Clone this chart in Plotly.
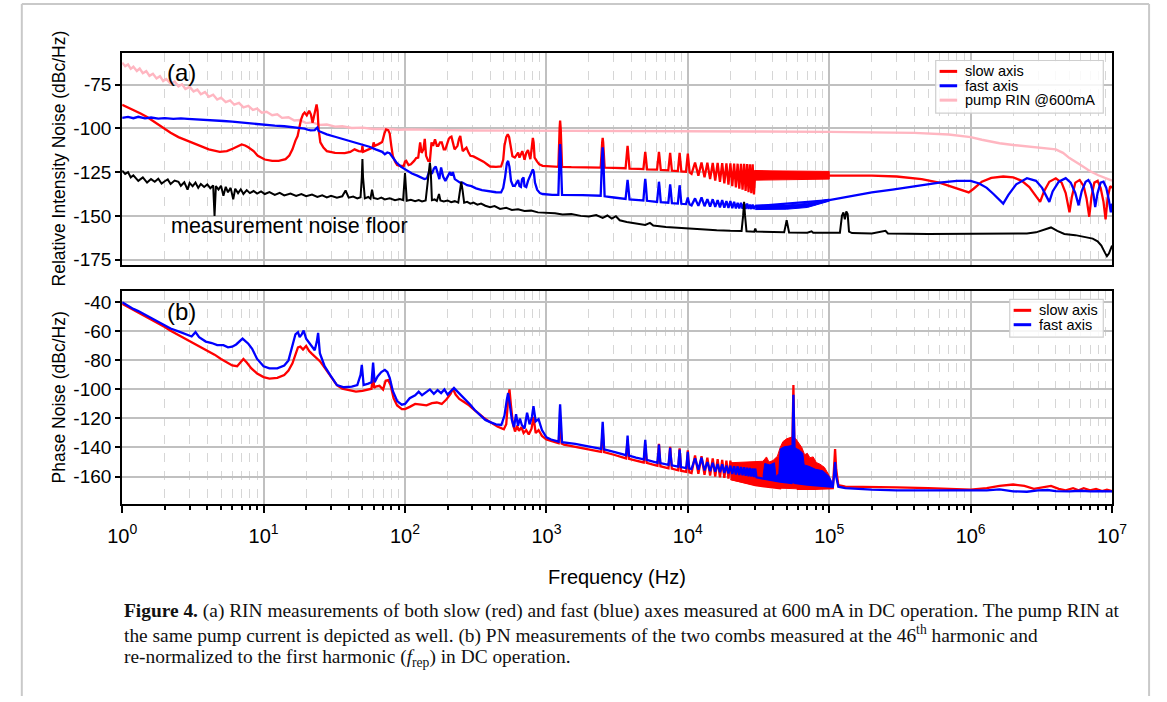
import plotly.graph_objects as go

# ------------------------------------------------------------------ data
F_TICKS = [1, 10, 100, 1000, 10000, 100000, 1000000, 10000000]
F_TICK_TEXT = ["10<sup>0</sup>", "10<sup>1</sup>", "10<sup>2</sup>", "10<sup>3</sup>",
               "10<sup>4</sup>", "10<sup>5</sup>", "10<sup>6</sup>", "10<sup>7</sup>"]
RIN_TICKS = [-175, -150, -125, -100, -75]
RIN_TICK_TEXT = ["-175", "-150", "-125", "-100", "-75"]
PN_TICKS = [-160, -140, -120, -100, -80, -60, -40]
PN_TICK_TEXT = ["-160", "-140", "-120", "-100", "-80", "-60", "-40"]

# (a) pump RIN @600mA  (frequency Hz, dBc/Hz)
RIN_PUMP = [
    (1, -62.5), (1.05, -64.5), (1.1, -63.5), (1.15, -66), (1.2, -64.8), (1.27, -67.2), (1.33, -65.8),
    (1.4, -68.5), (1.48, -67.3), (1.56, -70), (1.65, -68.8), (1.75, -71.5), (1.85, -70.2), (1.95, -73),
    (2.05, -71.8), (2.2, -74.5), (2.35, -73.3), (2.5, -76), (2.65, -74.8), (2.8, -77.5), (3.0, -76.3),
    (3.2, -79), (3.4, -77.8), (3.6, -80.5), (3.85, -79.3), (4.1, -82), (4.4, -80.8), (4.7, -83.5),
    (5.0, -82.5), (5.4, -85), (5.8, -84), (6.2, -86.5), (6.7, -85.5), (7.2, -88), (7.8, -87.2),
    (8.4, -89.5), (9.0, -88.7), (9.7, -91), (10.5, -90.5), (11.5, -92.5), (12.5, -92), (13.5, -94),
    (15, -93.7), (16.5, -95.5), (18, -95.2), (20, -97), (22, -96.6), (25, -98), (28, -97.8), (32, -99),
    (36, -98.8), (42, -99.8), (50, -99.6), (60, -100.4), (75, -100.2), (90, -100.8), (110, -100.6),
    (150, -101), (200, -101), (300, -101.2), (500, -101.3), (1000, -101.5), (2000, -101.6),
    (5000, -101.7), (10000, -101.8), (30000, -101.8), (100000, -102), (200000, -102.2),
    (400000, -102.6), (700000, -103.5), (1000000, -105), (1200000, -106.5), (1600000, -108.5),
    (2000000, -109.5), (3000000, -110.8), (4000000, -112), (4500000, -114), (5000000, -117),
    (6000000, -121), (7000000, -124.5), (8000000, -126.8), (9000000, -128.5), (10000000, -129.8),
]

# (a) slow axis RIN
RIN_SLOW = [
    (1, -86.5), (1.1, -88), (1.2, -89.5), (1.35, -91.5), (1.5, -93.5), (1.66, -95.8), (1.85, -98.5),
    (2.0, -100.5), (2.2, -102.5), (2.5, -105), (2.9, -107), (3.4, -109.5), (4.1, -112), (4.9, -113.4),
    (5.5, -113), (6.1, -111.5), (6.6, -110), (7.0, -109.2), (7.4, -109.8), (7.8, -110.8), (8.5, -113),
    (9.1, -115.7), (10.2, -117.8), (11.5, -118.6), (12.8, -118.6), (14.3, -117.6), (15.2, -115.5),
    (16, -112), (16.8, -107), (17.4, -104.4), (18.4, -95), (19, -92), (19.5, -91), (20.2, -92.6),
    (21, -90), (21.6, -92), (22.2, -96.8), (22.7, -93), (23.3, -88), (23.7, -86.4), (24.1, -90),
    (24.5, -100.6), (25.2, -108), (26.5, -111), (28, -113), (32, -114), (37.5, -114.2), (41, -113.5),
    (44, -112), (47, -113), (49.5, -113.2), (50, -110), (50.6, -113.4), (55, -112), (59, -111),
    (60, -108), (61, -110), (65, -109), (69, -107.8), (71.5, -103), (73.5, -100.6), (76, -101),
    (78, -103), (80, -110), (82, -115.7), (85, -119), (88, -121), (93, -121.5), (98, -121.4),
    (100, -119), (102, -118.6), (106, -121), (110, -120.5), (116, -118.6), (120, -117), (124, -116.7),
    (128, -108), (131, -114), (135, -112), (138, -106), (141, -115.7), (146, -118.6), (150, -118.6),
    (154, -108), (158, -110), (163, -106.2), (168, -110), (172, -110), (177, -108), (182, -108),
    (188, -112), (193, -112), (199, -108), (204, -106), (209, -105), (213, -104.7), (218, -108),
    (224, -112), (230, -111), (235, -110), (241, -106), (246, -104.4), (251, -109), (256, -113),
    (264, -112), (272, -111), (282, -114), (290, -115.7), (305, -116), (318, -116.7), (340, -118),
    (359, -119), (380, -120.5), (400, -121.8), (440, -122), (478, -121.8), (495, -118), (505, -110),
    (520, -105), (533, -103.4), (545, -105), (560, -111), (575, -116), (598, -116.7), (615, -115.5),
    (631, -113.8), (645, -116.7), (660, -115), (675, -113), (689, -115.5), (700, -118), (720, -114),
    (741, -112.4), (755, -115), (770, -117.6), (785, -112), (802, -105.5), (812, -108), (825, -116.7),
    (860, -119), (890, -120.5), (940, -121.4), (1000, -121.6), (1085, -121.8), (1180, -121.8),
    (1215, -122), (1240, -100), (1250, -95.5), (1262, -100), (1290, -122), (1500, -122.2),
    (2000, -122.3), (2420, -122.4), (2480, -108), (2500, -105.5), (2520, -108), (2580, -122.5),
    (3000, -122.6), (3630, -122.8), (3720, -113), (3750, -110), (3780, -113), (3870, -123),
    (4500, -123.2), (4850, -123.3), (4960, -116), (5000, -113.5), (5040, -116), (5150, -123.4),
    (6060, -123.6), (6200, -116), (6250, -113.5), (6300, -116), (6440, -123.8), (7280, -124),
    (7440, -117), (7500, -114), (7560, -117), (7720, -124.2), (8500, -124.4), (8680, -117),
    (8750, -114), (8820, -117), (9000, -124.6), (9700, -124.8), (9930, -117), (10000, -114.5),
    (10070, -117), (10300, -125.2),
    (10625, -126), (11250, -119.5), (11875, -127), (12500, -119.5), (13125, -128), (13750, -119.6),
    (14375, -129), (15000, -119.7), (15625, -129.8), (16250, -119.8), (16875, -130.6), (17500, -119.9),
    (18125, -131.4), (18750, -120), (19375, -132.2), (20000, -120), (20625, -133), (21250, -120.1),
    (21875, -133.7), (22500, -120.2), (23125, -134.4), (23750, -120.3), (24375, -135.1), (25000, -120.3),
    (25625, -135.8), (26250, -120.4), (26875, -136.5), (27500, -120.5), (28125, -137.1), (28750, -120.5),
    (29375, -137.8), (30000, -124.5), (100000, -127),
    (200000, -127), (300000, -127.5), (450000, -129), (600000, -131), (750000, -133.5), (880000, -135.5),
    (970000, -136.6), (1050000, -134.5), (1200000, -130.5), (1400000, -128.3), (1700000, -127.5),
    (2000000, -128), (2300000, -130), (2600000, -133.5), (2900000, -138.5), (3100000, -142),
    (3300000, -136), (3600000, -130.5), (4000000, -128.5), (4400000, -131), (4700000, -137),
    (5000000, -148), (5200000, -139), (5500000, -131), (5900000, -129.5), (6300000, -133),
    (6600000, -140), (6900000, -150.5), (7150000, -139), (7500000, -131), (7900000, -130),
    (8300000, -134), (8700000, -142), (9000000, -152), (9300000, -140), (9700000, -133),
    (10000000, -134),
]
# dense harmonic band of the slow axis between 30 kHz and 100 kHz: (f, upper, lower)
RIN_SLOW_BAND = [(30000, -124.2, -129.6), (60000, -124.4, -129.3), (100000, -124.6, -129.0)]

# (a) fast axis RIN
RIN_FAST = [
    (1, -94), (1.1, -93.5), (1.2, -94.2), (1.3, -93.4), (1.45, -94.3), (1.6, -93.8), (1.8, -94.5),
    (2.0, -94.2), (2.3, -94.6), (2.6, -94.3), (2.9, -94.6), (3.3, -94.8), (3.8, -95.2), (4.4, -95.5),
    (5.2, -95.8), (6, -96.2), (7, -96.8), (8, -97.2), (9.1, -97.7), (10.5, -98.2), (12, -98.5),
    (14, -98.8), (16, -99.2), (18, -99.8), (19.5, -100.2), (20.5, -100.8), (21.5, -101.2), (23, -101),
    (24, -99.5), (24.5, -101.5), (26, -102.5), (28, -103.4), (32, -104.8), (37, -106.2), (43, -107.8),
    (50, -109), (56, -110.5), (62, -112), (69, -113.4), (72, -114.8), (75, -113.8), (78, -114.2),
    (82, -116.5), (87, -119.5), (94, -122), (103, -124.2), (112, -125.8), (122, -127), (130, -128.2),
    (137, -129), (143, -128.5), (149, -124.2), (155, -126), (160, -123), (165, -121.8), (170, -126),
    (175, -129), (180, -122.3), (186, -127.5), (193, -130), (200, -127.5), (208, -125), (213, -127),
    (218, -125), (225, -129), (233, -130), (245, -131), (255, -131), (275, -132.5), (295, -133),
    (318, -134.3), (350, -135.3), (400, -136.2), (440, -136.5), (478, -136.6), (495, -134),
    (510, -128), (525, -120), (536, -118.6), (548, -122), (562, -130), (580, -132.8), (598, -132.8),
    (615, -131), (631, -129.5), (645, -133), (660, -133.5), (673, -129), (689, -128), (700, -133),
    (720, -133.5), (741, -130), (770, -127), (802, -123.5), (815, -125), (830, -131), (860, -135),
    (900, -137), (940, -137.5), (1000, -137.8), (1100, -138), (1200, -138),
    (1215, -138), (1238, -115), (1250, -109), (1262, -115), (1290, -138), (1800, -138.2),
    (2420, -138.5), (2480, -115), (2500, -110.8), (2520, -115), (2580, -138.8), (3000, -139.5),
    (3630, -140.3), (3720, -132), (3750, -129.5), (3780, -132), (3870, -140.6), (4500, -141),
    (4850, -141.2), (4960, -131.5), (5000, -128.8), (5040, -131.5), (5150, -141.4), (6060, -142),
    (6200, -133), (6250, -130.5), (6300, -133), (6440, -142.2), (7280, -142.5), (7440, -134.5),
    (7500, -132), (7560, -134.5), (7720, -142.7), (8500, -143), (8680, -135), (8750, -132.5),
    (8820, -135), (9000, -143.1), (9700, -143.3), (9930, -141), (10000, -139.5), (10070, -141),
    (10300, -143.5),
    (10625, -144), (11250, -140), (11875, -144.3), (12500, -139.5), (13125, -144.5), (13750, -140.5),
    (14375, -144.7), (15000, -140.5), (15625, -144.9), (16250, -141), (16875, -145.1), (17500, -141),
    (18125, -145.3), (18750, -141.5), (19375, -145.5), (20000, -141.5), (20625, -145.6), (21250, -142),
    (21875, -145.7), (22500, -142.5), (23125, -145.8), (23750, -142.5), (24375, -145.9), (25000, -143),
    (25625, -146), (26250, -143), (26875, -146), (27500, -143.5), (28125, -146.1), (28750, -143.5),
    (29375, -146.1), (30000, -144.5), (100000, -141),
    (150000, -138.5), (200000, -136.6), (280000, -135), (350000, -133.7), (450000, -132.3),
    (600000, -131), (800000, -130), (1000000, -130), (1150000, -131.5), (1300000, -134),
    (1450000, -137.5), (1600000, -141), (1700000, -143), (1850000, -138), (2100000, -132),
    (2500000, -128.5), (2900000, -130), (3200000, -134), (3450000, -139), (3600000, -142),
    (3800000, -136), (4200000, -130.5), (4700000, -128.5), (5100000, -131), (5500000, -137),
    (5800000, -144), (6100000, -136), (6500000, -130.5), (6800000, -129.5), (7100000, -132),
    (7400000, -138), (7600000, -145), (7900000, -137), (8300000, -131), (8700000, -130.5),
    (9100000, -134), (9500000, -141), (9800000, -148), (10000000, -143),
]
RIN_FAST_BAND = [(30000, -143.8, -146.4), (50000, -143.8, -146.2), (70000, -142.8, -145.2), (100000, -140.4, -141.6)]

# (a) measurement noise floor
RIN_FLOOR = [
    (1, -124.2), (1.05, -126), (1.1, -125), (1.15, -128), (1.2, -126.8), (1.3, -130), (1.4, -128),
    (1.5, -131), (1.6, -129), (1.7, -130.5), (1.8, -128.8), (1.9, -131.5), (2.0, -130.2), (2.1, -129.2),
    (2.2, -131.8), (2.35, -129.8), (2.5, -130.5), (2.6, -132.8), (2.75, -130.8), (2.9, -135), (3.0, -131.2),
    (3.15, -133), (3.3, -131), (3.45, -134), (3.6, -131.8), (3.8, -133.5), (4.0, -132), (4.2, -134.2),
    (4.4, -132.6), (4.5, -150), (4.6, -133), (4.8, -135), (5.0, -132.8), (5.2, -138.5), (5.4, -133.4),
    (5.6, -136.5), (5.85, -134), (6.1, -140.5), (6.3, -134.5), (6.6, -137), (6.9, -134.8), (7.2, -137.5),
    (7.6, -135.3), (8.0, -137), (8.5, -135.8), (9.0, -137.3), (9.6, -136), (10.2, -137.5), (11, -136.4),
    (12, -138), (13, -136.8), (14, -138.3), (15.5, -137.2), (17, -138.6), (18.5, -137.5), (20, -138.8),
    (22, -137.8), (24, -139.2), (26, -138.2), (28, -139.4), (30, -138.5), (33, -139.6), (36, -138.8),
    (38, -135.5), (40, -139.6), (43, -139), (46, -140), (48.5, -139.4), (49.5, -128), (50, -117.6),
    (50.5, -128), (52, -140), (55, -139.2), (57, -140.2), (58.5, -135), (60, -139.8), (64, -140.4),
    (68, -139.6), (72, -140.6), (78, -140), (85, -141), (92, -140.4), (97, -141), (99, -131),
    (100, -125.5), (101, -131), (103, -141.4), (110, -140.8), (118, -141.6), (125, -141), (132, -141.8),
    (140, -141.2), (145, -130), (148, -121), (150, -119.5), (152, -124), (155, -141), (162, -140.6),
    (168, -141.5), (174, -137.5), (178, -141.2), (188, -141.8), (200, -141.2), (212, -142.2),
    (225, -141.6), (238, -142.4), (245, -135), (250, -130.5), (256, -136), (262, -142.5), (275, -142),
    (290, -143), (305, -142.4), (325, -143.6), (345, -143), (370, -144.2), (400, -145), (430, -144.4),
    (470, -146), (520, -145.4), (570, -146.6), (630, -146.2), (700, -147.2), (780, -147), (870, -148),
    (1000, -148.2), (1150, -148.5), (1300, -149.2), (1500, -149), (1750, -150), (2000, -150.3),
    (2250, -149.5), (2500, -151.2), (2700, -149.8), (2900, -151.5), (3100, -150.2), (3300, -152.5),
    (3700, -153.5), (4200, -154.2), (5000, -155.2), (5400, -154), (5700, -155.5), (7000, -156.3),
    (9000, -157), (12000, -157.8), (16000, -158.2), (20000, -158.5), (24000, -158.6), (24600, -150),
    (25000, -142), (25400, -150), (26000, -158.8), (29500, -159), (30000, -157.2), (30500, -159),
    (40000, -159.3), (48000, -159.4), (49000, -156), (50000, -152.5), (51000, -156), (52000, -159.5),
    (70000, -159.6), (75000, -158.8), (77000, -159.6), (119000, -159.6), (123000, -150), (126000, -148),
    (129000, -152), (132000, -147.5), (135000, -149), (138000, -159), (145000, -159.8), (200000, -160),
    (250000, -158.5), (260000, -160), (500000, -160.3), (1000000, -160.3), (1500000, -160.2),
    (2500000, -160), (2900000, -159.4), (3300000, -158), (3700000, -156.6), (4100000, -158.6),
    (4600000, -160.3), (5500000, -161), (6500000, -162), (7300000, -163), (7900000, -164.5),
    (8400000, -167), (8900000, -171), (9200000, -173), (9500000, -171.5), (10000000, -167),
]

# (b) slow axis phase noise
PN_SLOW = [
    (1, -41), (1.1, -43.2), (1.2, -45), (1.3, -47), (1.45, -49.5), (1.6, -51.5), (1.8, -54.5),
    (2.0, -57), (2.2, -59.5), (2.5, -62.5), (2.8, -65), (3.2, -68), (3.6, -70.5), (4.0, -73),
    (4.5, -76), (5.0, -79), (5.5, -81.5), (6.0, -83.5), (6.5, -84), (6.9, -81), (7.2, -79), (7.6, -81.5),
    (8.2, -85.5), (9.0, -89), (10, -91.5), (11, -92.5), (12.5, -92), (14, -90), (15, -87), (16, -82),
    (16.8, -76), (17.5, -71), (18.2, -70.5), (19, -72.5), (20, -70), (21, -73.5), (22, -75.5),
    (23.5, -78), (25, -80.5), (27, -85), (30, -91), (33, -97), (36, -99.5), (40, -100.5), (45, -101.5),
    (50, -101), (55, -100), (58, -99.5), (59.5, -88), (60.5, -99), (62, -98), (66, -97.5), (70, -100),
    (73, -94), (76, -93.5), (79, -97), (83, -106), (88, -111), (95, -113.5), (100, -113.5), (108, -112),
    (118, -110), (130, -110.5), (142, -111), (155, -109.5), (168, -109), (182, -110), (196, -107),
    (210, -103), (218, -99.5), (228, -103.5), (242, -106.5), (260, -108.5), (280, -110.5), (300, -113),
    (330, -116.5), (360, -119.5), (400, -122.5), (450, -125.5), (500, -127.5), (520, -124), (535, -108),
    (548, -100), (560, -110), (580, -124), (600, -129), (620, -125), (640, -128.5), (665, -126),
    (690, -130), (720, -128), (750, -131), (785, -127), (810, -119), (840, -130), (880, -128),
    (930, -132), (1000, -134.5), (1080, -135.5), (1160, -136.5), (1220, -137), (1250, -121),
    (1280, -137.2), (1330, -138), (1600, -139.5), (2000, -141.5), (2440, -143), (2500, -128),
    (2560, -143.2), (3000, -145), (3660, -147.5), (3750, -135), (3840, -147.8), (4300, -149),
    (4880, -150.3), (5000, -138), (5120, -150.6), (5600, -151.7), (6100, -152.6), (6250, -137.5),
    (6400, -152.9), (7300, -154.3), (7500, -139.5), (7700, -154.6), (8550, -155.7), (8750, -140.5),
    (8950, -156), (9750, -156.8), (10000, -142), (10250, -157.2), (10625, -157.6), (11250, -145.5),
    (11875, -158.2), (12500, -146), (13125, -158.8), (13750, -147), (14375, -159.4), (15000, -147.5),
    (15625, -160), (16250, -148), (16875, -160.5), (17500, -148.5), (18125, -161), (18750, -149),
    (19375, -161.5), (20000, -149), (20625, -162), (30000, -166), (45000, -168), (55000, -133),
    (55800, -97), (56600, -133), (60000, -168.5), (80000, -168.5), (100000, -168.2), (106000, -168),
    (108000, -155), (110000, -141), (112000, -155), (116000, -166), (130000, -167), (160000, -167),
    (200000, -167.2), (300000, -167.5), (500000, -168), (800000, -168.5), (1000000, -169),
    (1300000, -168), (1600000, -166.5), (2000000, -165.5), (2400000, -166.5), (2800000, -168.5),
    (3200000, -167.5), (3700000, -166.5), (4200000, -168.5), (4700000, -169.5), (5300000, -168),
    (5800000, -169.5), (6300000, -168), (7000000, -169.5), (7700000, -168.5), (8500000, -170),
    (9200000, -169), (10000000, -170),
]
# envelope of the dense slow-axis harmonics around the 55 kHz feature
PN_SLOW_ENV_HI = [
    (20000, -150.5), (25000, -150), (30000, -150), (34000, -149.5), (36000, -146.5), (37500, -150),
    (40000, -149), (43000, -146), (45000, -140), (47000, -136), (50000, -134), (53000, -133),
    (55500, -132.5), (58000, -134), (61000, -137), (64000, -140), (67000, -145), (70000, -144),
    (73000, -147), (77000, -146.5), (81000, -150.3), (86000, -151.5), (92600, -153.7), (99500, -159),
    (102000, -163), (106000, -166),
]
PN_SLOW_ENV_LO = [(20000, -162.2), (30000, -166), (45000, -168), (60000, -168.5), (80000, -168.5), (106000, -168)]

# (b) fast axis phase noise
PN_FAST = [
    (1, -40), (1.1, -42.5), (1.2, -44.5), (1.3, -46), (1.45, -48.5), (1.6, -50.5), (1.8, -53.5),
    (2.0, -56), (2.2, -58), (2.5, -60), (2.8, -62), (3.1, -63.5), (3.3, -60.5), (3.5, -64), (3.9, -67),
    (4.3, -68), (4.7, -69.5), (5.2, -69.5), (5.6, -71), (6.0, -70.5), (6.4, -69), (6.8, -67), (7.1, -65),
    (7.4, -66.5), (7.8, -68.5), (8.3, -72), (9.0, -79), (10, -84), (11, -85.5), (12.5, -85.5),
    (14, -83.5), (15, -80), (16, -70), (16.8, -62), (17.5, -60.5), (18, -64), (18.6, -62), (19.2, -59.5),
    (20, -65), (21, -68), (22, -70), (23, -73), (23.8, -67), (24.3, -61), (25, -75), (27, -84),
    (30, -91), (33, -97), (37, -98.5), (42, -98), (46, -97), (48.5, -90), (49.5, -83), (51, -97),
    (55, -96), (58, -95), (59.5, -81.5), (61, -95), (64, -91), (68, -88), (72, -86.5), (75, -88),
    (78, -92), (82, -101), (88, -108), (95, -110.5), (100, -110), (108, -106), (118, -104),
    (125, -101.5), (132, -104), (140, -102), (150, -100), (160, -103), (170, -100.5), (180, -102.5),
    (190, -100), (200, -103.5), (212, -101), (222, -99), (235, -101.5), (250, -104), (270, -107),
    (290, -110.5), (310, -114), (340, -118), (370, -121), (400, -122.5), (440, -124), (480, -124.5),
    (505, -118), (525, -107), (536, -102.5), (550, -110), (570, -121), (590, -126), (610, -117),
    (630, -125), (650, -120), (670, -124.5), (700, -127), (730, -116), (760, -124), (790, -119),
    (810, -111.5), (840, -122), (880, -120.5), (930, -128), (1000, -133), (1080, -134.5),
    (1160, -135.5), (1220, -136), (1238, -118), (1250, -110.3), (1262, -118), (1290, -136.3),
    (1600, -137.5), (2000, -139.5), (2440, -141), (2480, -128), (2500, -122.3), (2520, -128),
    (2560, -141.2), (3000, -143), (3660, -145.3), (3720, -137), (3750, -131.8), (3780, -137),
    (3840, -145.6), (4300, -147), (4880, -148.2), (4960, -139), (5000, -134.8), (5040, -139),
    (5120, -148.5), (5600, -149.5), (6100, -150.5), (6200, -143), (6250, -138), (6300, -143),
    (6400, -150.8), (7300, -152), (7440, -145), (7500, -140.2), (7560, -145), (7700, -152.3),
    (8550, -153.2), (8680, -146), (8750, -141.5), (8820, -146), (8950, -153.5), (9750, -154.2),
    (9930, -148), (10000, -143), (10070, -148), (10250, -154.5),
    (10625, -154.8), (11250, -147.5), (11875, -155.3), (12500, -147), (13125, -155.8), (13750, -150),
    (14375, -156.3), (15000, -150.5), (15625, -156.7), (16250, -151.5), (16875, -157.1), (17500, -151.5),
    (18125, -157.5), (18750, -152.5), (19375, -157.9), (20000, -152.5), (20625, -158.3), (21250, -153),
    (21875, -158.6), (22500, -153), (23125, -158.9), (23750, -153.5), (24375, -159.2), (25000, -153.5),
    (25625, -159.5), (26250, -154), (26875, -159.8), (27500, -154), (28125, -160.1), (28750, -154.5),
    (29375, -160.4), (30000, -154.5), (30600, -160.6), (34000, -161.5), (45000, -163.5),
    (54000, -164.5), (55000, -140), (55800, -103.7), (56600, -140), (57500, -164.5), (70000, -165.5),
    (100000, -166.5), (106000, -167), (108000, -160), (110000, -150), (112000, -160), (116000, -167),
    (130000, -168), (160000, -168.5), (200000, -169), (300000, -169.5), (500000, -169.5),
    (800000, -170), (1000000, -170), (1300000, -169.5), (1600000, -168.8), (2000000, -170.2),
    (2500000, -170.5), (3000000, -169.5), (3500000, -169.3), (4000000, -170), (5000000, -170.3),
    (6000000, -169.8), (7000000, -170.2), (8000000, -170), (10000000, -170.3),
]
PN_FAST_ENV_HI = [
    (34000, -160), (35000, -151), (38000, -152), (41000, -150.5), (42000, -160), (44000, -158),
    (45000, -141), (48000, -139.5), (52000, -139), (55000, -138.5), (58000, -140.5), (62000, -142),
    (65000, -144), (66500, -152), (72000, -153), (80000, -155), (90000, -156), (100000, -160),
    (106000, -165),
]
PN_FAST_ENV_LO = [(34000, -161.5), (45000, -163.5), (70000, -165.5), (106000, -167)]

# ------------------------------------------------------------------ styling
RED, BLUE, PINK, BLACK = "#ff0000", "#0000ff", "#ffb6c1", "#000000"
SANS = "Liberation Sans, Arial, Helvetica, sans-serif"
SERIF = "Liberation Serif, Times New Roman, serif"
W, H = 1167, 702
PLOT_L, PLOT_R = 110, 1126          # pixel edges of the plot boxes
A_TOP, A_BOT = 53, 267
B_TOP, B_BOT = 294, 508


def fx(p):
    return p / W


def fy(p):
    return 1 - p / H


def unzip(pairs):
    return [p[0] for p in pairs], [p[1] for p in pairs]


def band_polygon(hi, lo):
    fh, vh = unzip(hi)
    fl, vl = unzip(lo)
    return fh + fl[::-1], vh + vl[::-1]


fig = go.Figure()


def add_line(pairs, color, xa, ya, width=2.3):
    xs, ys = unzip(pairs)
    fig.add_trace(go.Scatter(x=xs, y=ys, mode="lines", line=dict(color=color, width=width),
                             xaxis=xa, yaxis=ya, showlegend=False, hoverinfo="skip"))


def add_fill(xs, ys, color, xa, ya):
    fig.add_trace(go.Scatter(x=xs, y=ys, mode="lines", fill="toself", fillcolor=color,
                             line=dict(color=color, width=1), xaxis=xa, yaxis=ya,
                             showlegend=False, hoverinfo="skip"))


# panel (a)
add_line(RIN_PUMP, PINK, "x", "y", 2.4)
add_line(RIN_SLOW, RED, "x", "y")
bf = [b[0] for b in RIN_SLOW_BAND]
add_fill(bf + bf[::-1], [b[1] for b in RIN_SLOW_BAND] + [b[2] for b in RIN_SLOW_BAND][::-1], RED, "x", "y")
add_line(RIN_FAST, BLUE, "x", "y")
bf = [b[0] for b in RIN_FAST_BAND]
add_fill(bf + bf[::-1], [b[1] for b in RIN_FAST_BAND] + [b[2] for b in RIN_FAST_BAND][::-1], BLUE, "x", "y")
add_line(RIN_FLOOR, BLACK, "x", "y", 2.0)

# panel (b)
add_line(PN_SLOW, RED, "x2", "y2")
px_, py_ = band_polygon(PN_SLOW_ENV_HI, PN_SLOW_ENV_LO)
add_fill(px_, py_, RED, "x2", "y2")
add_line(PN_FAST, BLUE, "x2", "y2")
px_, py_ = band_polygon(PN_FAST_ENV_HI, PN_FAST_ENV_LO)
add_fill(px_, py_, BLUE, "x2", "y2")

GRID_MAJ = "#c0c0c0"
GRID_MIN = "#d6d6d6"
x_common = dict(type="log", range=[0, 7], domain=[fx(PLOT_L), fx(PLOT_R)], showline=True,
                linecolor="black", linewidth=2, mirror=True, showgrid=True, gridcolor=GRID_MAJ,
                gridwidth=1.7, zeroline=False, tickmode="array", tickvals=F_TICKS, ticktext=F_TICK_TEXT)
y_common = dict(showline=True, linecolor="black", linewidth=2, mirror=True, showgrid=True,
                gridcolor=GRID_MAJ, gridwidth=1.7, zeroline=False, ticks="outside", ticklen=5,
                tickwidth=1.5, tickcolor="black", tickmode="array",
                tickfont=dict(family=SANS, size=19, color="black"))

fig.update_layout(
    width=W, height=H, margin=dict(l=0, r=0, t=0, b=0), autosize=False,
    paper_bgcolor="white", plot_bgcolor="white", hovermode=False, showlegend=False,
    xaxis=dict(**x_common, anchor="y", showticklabels=False, ticks="",
               minor=dict(dtick="D1", showgrid=True, gridcolor=GRID_MIN, griddash="dash",
                          gridwidth=1.2, ticks="")),
    xaxis2=dict(**x_common, anchor="y2", matches="x", showticklabels=True, ticks="outside",
                ticklen=7, tickwidth=1.5, tickcolor="black", ticklabelstandoff=6,
                tickfont=dict(family=SANS, size=20, color="black"),
                minor=dict(dtick="D1", showgrid=True, gridcolor=GRID_MIN, griddash="dash",
                           gridwidth=1.2, ticks="outside", ticklen=4, tickwidth=1.5, tickcolor="black")),
    yaxis=dict(**y_common, anchor="x", domain=[fy(A_BOT), fy(A_TOP)], range=[-177.9, -56.7],
               tickvals=RIN_TICKS, ticktext=RIN_TICK_TEXT),
    yaxis2=dict(**y_common, anchor="x2", domain=[fy(B_BOT), fy(B_TOP)], range=[-178.7, -32.5],
                tickvals=PN_TICKS, ticktext=PN_TICK_TEXT),
)

shapes = []
# page frame
FRAME = "#c9c9c9"
shapes.append(dict(type="line", xref="paper", yref="paper", x0=fx(7), x1=fx(7), y0=fy(4), y1=fy(702),
                   line=dict(color=FRAME, width=2)))
shapes.append(dict(type="line", xref="paper", yref="paper", x0=fx(7), x1=fx(1164), y0=fy(4), y1=fy(4),
                   line=dict(color=FRAME, width=2)))
shapes.append(dict(type="line", xref="paper", yref="paper", x0=fx(1164), x1=fx(1164), y0=fy(4), y1=fy(702),
                   line=dict(color=FRAME, width=2)))

annotations = []


def text(x, y, s, size, family=SANS, anchor="left", angle=0, color="black"):
    annotations.append(dict(x=fx(x), y=fy(y), xref="paper", yref="paper", text=s, showarrow=False,
                            xanchor=anchor, yanchor="middle", textangle=angle, borderpad=0,
                            font=dict(family=family, size=size, color=color)))


# legends (drawn as boxes with sample lines)
LEG_A = [("slow axis", RED), ("fast axis", BLUE), ("pump RIN @600mA", PINK)]
LEG_B = [("slow axis", RED), ("fast axis", BLUE)]


def legend(x0, x1, y0, y1, items, ys, line_x0):
    shapes.append(dict(type="rect", xref="paper", yref="paper", x0=fx(x0), x1=fx(x1), y0=fy(y1), y1=fy(y0),
                       fillcolor="rgba(255,255,255,0.85)", line=dict(color="#cfcfcf", width=1.2)))
    for (lab, col), yy in zip(items, ys):
        shapes.append(dict(type="line", xref="paper", yref="paper", x0=fx(line_x0), x1=fx(line_x0 + 18),
                           y0=fy(yy), y1=fy(yy), line=dict(color=col, width=3)))
        text(line_x0 + 25, yy, lab, 14.5)


legend(945, 1117, 61, 114, LEG_A, [72, 86.5, 101], 949)
legend(1021, 1117, 302, 340, LEG_B, [313, 327.5], 1025)

# panel labels and axis titles
text(155, 73, "(a)", 24)
text(155, 314, "(b)", 24)
text(159, 228, "measurement noise floor", 21.5)
text(45, (A_TOP + A_BOT) / 2, "Relative Intensity Noise (dBc/Hz)", 17.5, anchor="center", angle=-90)
text(45, (B_TOP + B_BOT) / 2, "Phase Noise (dBc/Hz)", 17.5, anchor="center", angle=-90)
text((PLOT_L + PLOT_R) / 2, 582, "Frequency (Hz)", 20, anchor="center")

# caption
CAP = [
    "<b>Figure 4.</b> (a) RIN measurements of both slow (red) and fast (blue) axes measured at 600 mA in DC operation. The pump RIN at",
    "the same pump current is depicted as well. (b) PN measurements of the two combs measured at the 46<sup>th</sup> harmonic and",
    "re-normalized to the first harmonic (<i>f</i><sub>rep</sub>) in DC operation.",
]
for s, yy in zip(CAP, [616, 640, 664]):
    text(111, yy, s, 19.4, family=SERIF, color="#111111")

fig.update_layout(shapes=shapes, annotations=annotations)
fig.write_html("out.html", config={"displayModeBar": False})
